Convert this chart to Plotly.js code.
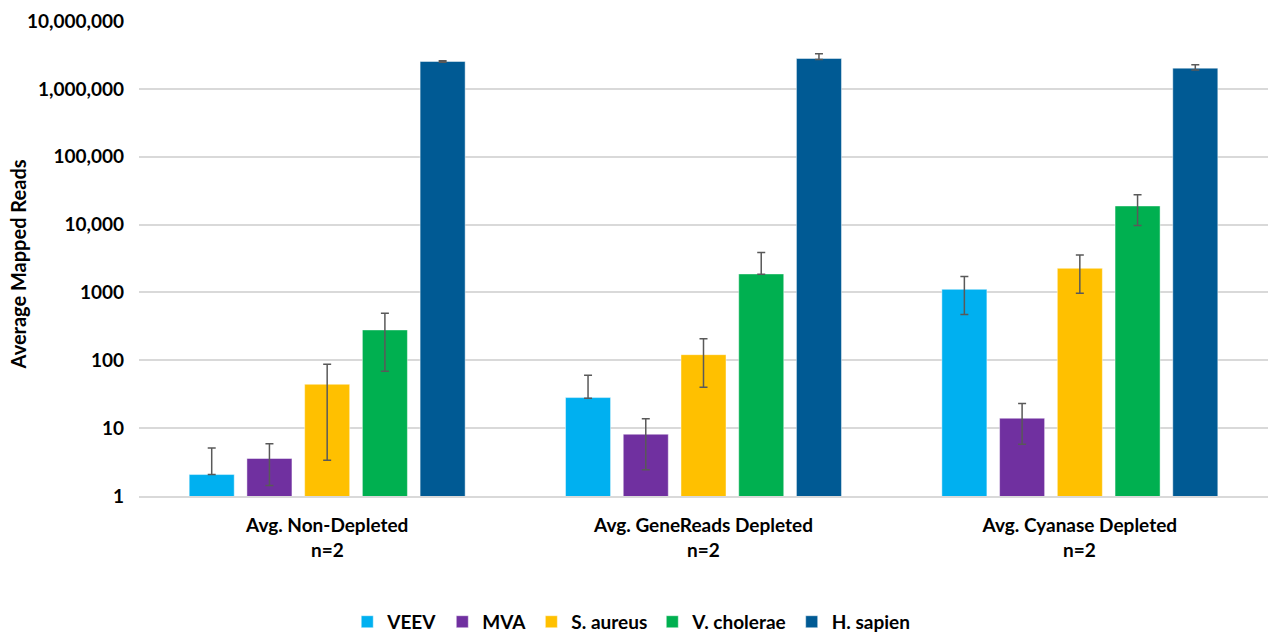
<!DOCTYPE html>
<html>
<head>
<meta charset="utf-8">
<script src="https://cdn.plot.ly/plotly-3.0.1.min.js"></script>
<style>
  html, body { margin: 0; padding: 0; background: #fff; }
  #chart { width: 1268px; height: 634px; }
</style>
</head>
<body>
<div id="chart"></div>
<script>
// Sample groups (x categories)
const groups = ['Avg. Non-Depleted', 'Avg. GeneReads Depleted', 'Avg. Cyanase Depleted'];
const groupSub = ['n=2', 'n=2', 'n=2'];

// Average mapped reads per organism, with lower / upper error bounds
const veev      = [2.07, 28.2, 1110];
const veevLow   = [2.07, 27.5, 471];
const veevHigh  = [5.1, 60, 1710];

const mva       = [3.57, 8.14, 14.0];
const mvaLow    = [1.43, 2.43, 5.8];
const mvaHigh   = [5.87, 13.8, 23];

const saureus     = [44.3, 121, 2266];
const saureusLow  = [3.37, 40, 970];
const saureusHigh = [87.6, 207, 3566];

const vcholerae     = [280, 1872, 18800];
const vcholeraeLow  = [68.9, 1850, 9730];
const vcholeraeHigh = [492, 3890, 27560];

const hsapien     = [2530000, 2800000, 2020000];
const hsapienLow  = [2460000, 2700000, 1890000];
const hsapienHigh = [2600000, 3290000, 2270000];

// Axis ticks
const yTickVals = [1, 10, 100, 1000, 10000, 100000, 1000000, 10000000];
const yTickText = ['1', '10', '100', '1000', '10,000', '100,000', '1,000,000', '10,000,000'];

const FONT = 'Lato, "Open Sans", sans-serif';
const TXT = { family: FONT, size: 19, weight: 'bold', color: '#000' };

function series(name, vals, low, high, color) {
  return {
    type: 'bar',
    name: name,
    x: groups,
    y: vals,
    marker: { color: color, line: { color: 'rgba(255,255,255,0.45)', width: 1 } },
    error_y: {
      type: 'data',
      symmetric: false,
      array: vals.map((v, i) => high[i] - v),
      arrayminus: vals.map((v, i) => v - low[i]),
      color: '#595959',
      thickness: 1.5,
      width: 4
    },
    hoverinfo: 'skip'
  };
}

const data = [
  series('VEEV', veev, veevLow, veevHigh, '#00B0F0'),
  series('MVA', mva, mvaLow, mvaHigh, '#7030A0'),
  series('S. aureus', saureus, saureusLow, saureusHigh, '#FFC000'),
  series('V. cholerae', vcholerae, vcholeraeLow, vcholeraeHigh, '#00B050'),
  series('H. sapien', hsapien, hsapienLow, hsapienHigh, '#005A94')
];

const layout = {
  width: 1268,
  height: 634,
  margin: { l: 139, r: 0, t: 21, b: 138, autoexpand: false },
  paper_bgcolor: '#ffffff',
  plot_bgcolor: '#ffffff',
  font: { family: FONT, color: '#000000' },
  barmode: 'group',
  bargap: 0.233,
  bargroupgap: 0.22,
  showlegend: true,
  legend: {
    orientation: 'h',
    x: 0.436, xanchor: 'center',
    y: -0.265, yanchor: 'middle',
    font: TXT,
    itemclick: false
  },
  xaxis: {
    type: 'category',
    showgrid: false,
    showline: true,
    linecolor: '#D9D9D9',
    linewidth: 2,
    ticks: '',
    tickfont: TXT,
    ticklabelstandoff: 11,
    automargin: false,
    fixedrange: true
  },
  yaxis: {
    type: 'log',
    range: [0, 7],
    tickvals: yTickVals,
    ticktext: yTickText,
    tickfont: TXT,
    ticklabelstandoff: 14,
    showgrid: true,
    gridcolor: '#D9D9D9',
    gridwidth: 2,
    zeroline: false,
    showline: false,
    ticks: '',
    automargin: false,
    fixedrange: true
  },
  annotations: [
    // y axis title, drawn as rotated text left of the tick labels
    {
      text: 'Average Mapped Reads',
      xref: 'paper', yref: 'paper',
      x: -0.107, xanchor: 'center',
      y: 0.488, yanchor: 'middle',
      textangle: -90,
      showarrow: false,
      font: { family: FONT, size: 20, weight: 'bold', color: '#000' }
    }
  ].concat(groups.map((g, i) => ({
    x: g, xref: 'x',
    y: -0.1116, yref: 'paper',
    yanchor: 'middle',
    text: groupSub[i],
    showarrow: false,
    font: TXT
  })))
};

Plotly.newPlot('chart', data, layout, { displayModeBar: false, staticPlot: true });
</script>
</body>
</html>
